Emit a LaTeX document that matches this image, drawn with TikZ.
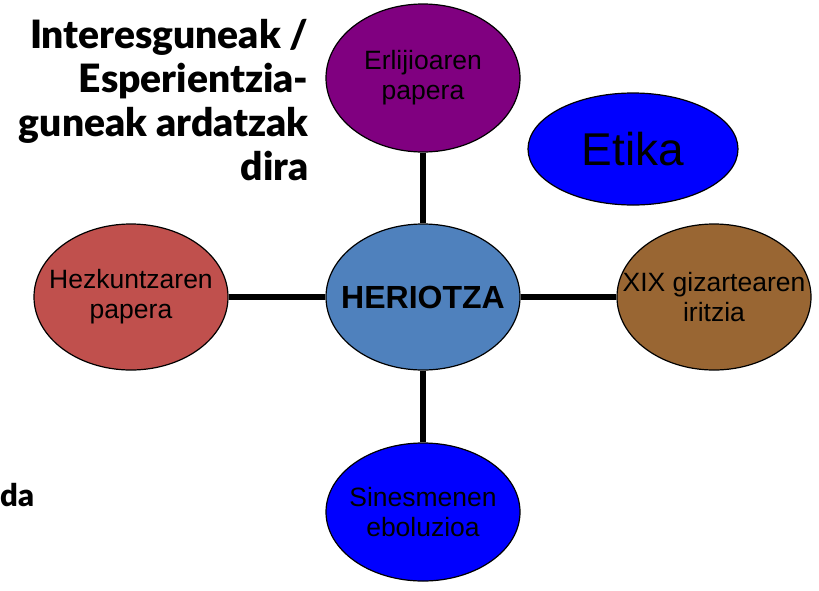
\documentclass[tikz,border=0pt]{standalone}
\usepackage{fontspec}
\setmainfont{Liberation Sans}
\newfontfamily\titlefont{Lato Black}
\usetikzlibrary{shapes.geometric}

\definecolor{herCol}{HTML}{4F81BD}
\definecolor{relCol}{HTML}{800080}
\definecolor{hezCol}{HTML}{C0504D}
\definecolor{xixCol}{HTML}{996633}
\definecolor{sinCol}{HTML}{0000FF}

\begin{document}
\begin{tikzpicture}[x=1pt,y=-1pt,
  gaia/.style={ellipse,draw=black,line width=1.2pt,inner xsep=-30pt,inner ysep=0pt,
    minimum width=194pt,minimum height=146pt,align=center,
    font=\fontsize{26.5}{30}\selectfont},
  lotura/.style={black,line width=5.5pt},
  izenb/.style={font=\titlefont\fontsize{39}{44}\selectfont}]

\useasboundingbox (0,0) rectangle (819,590);

\node[gaia,fill=herCol,font=\bfseries\fontsize{32}{36}\selectfont] (her) at (423,297) {HERIOTZA};
\node[gaia,fill=relCol,minimum height=148pt] (rel) at (423,78) {Erlijioaren\\papera};
\node[gaia,fill=hezCol] (hez) at (131,297) {Hezkuntzaren\\papera};
\node[gaia,fill=xixCol] (xix) at (714,297) {XIX gizartearen\\iritzia};
\node[gaia,fill=sinCol,minimum height=138pt] (sin) at (423,512) {Sinesmenen\\eboluzioa};
\node[gaia,fill=sinCol,minimum width=210pt,minimum height=112pt,
  font=\fontsize{46}{50}\selectfont] (eti) at (633,149) {Etika};

\draw[lotura] (rel) -- (her);
\draw[lotura] (hez) -- (her);
\draw[lotura] (her) -- (xix);
\draw[lotura] (her) -- (sin);

\node[izenb,anchor=north east,align=right] (gaiak) at (312,16)
  {Interesguneak /\\Esperientzia-\\guneak ardatzak\\dira};
\node[izenb,font=\titlefont\fontsize{31}{36}\selectfont,anchor=base west,inner sep=0pt] (da) at (0,506) {da};

\end{tikzpicture}
\end{document}
